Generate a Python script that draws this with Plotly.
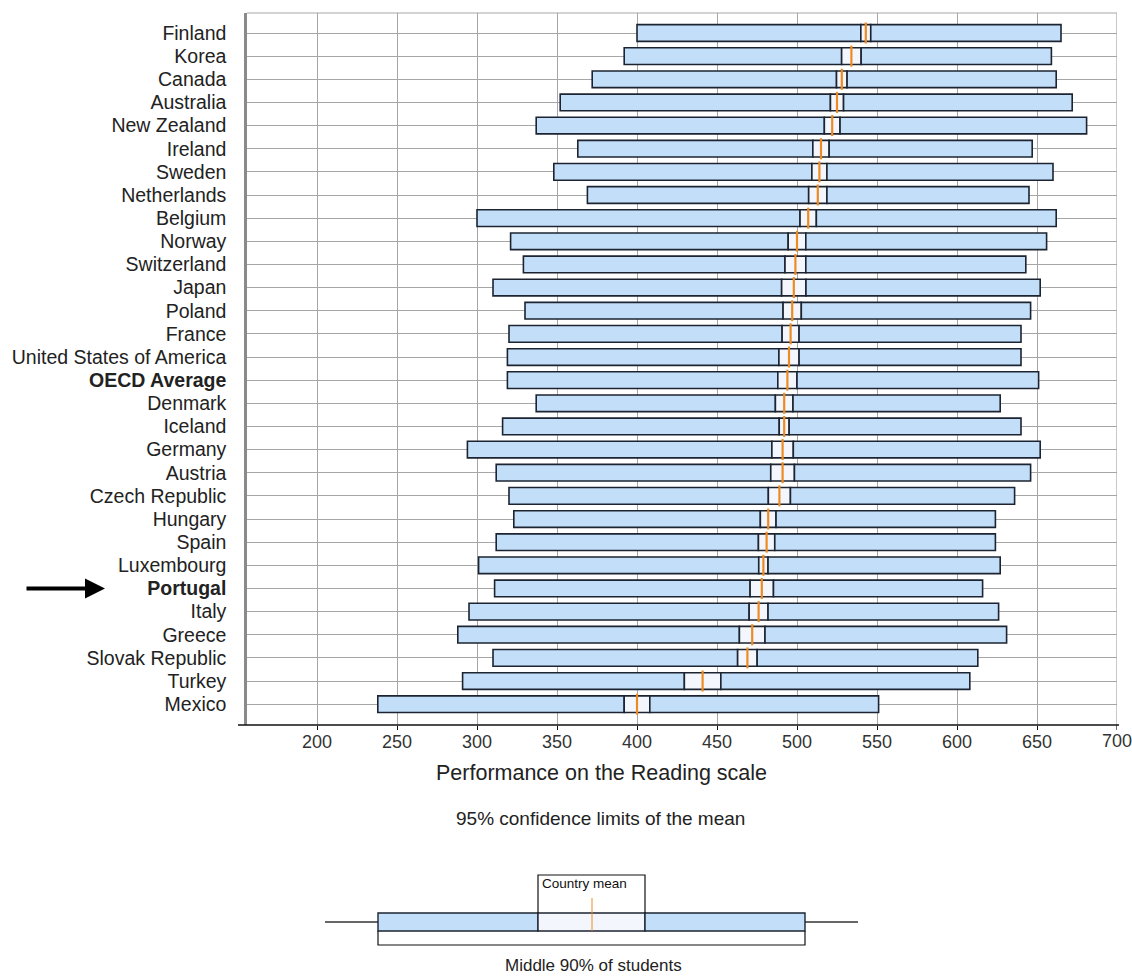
import plotly.graph_objects as go

countries = ["Finland", "Korea", "Canada", "Australia", "New Zealand", "Ireland",
             "Sweden", "Netherlands", "Belgium", "Norway", "Switzerland", "Japan",
             "Poland", "France", "United States of America", "OECD Average",
             "Denmark", "Iceland", "Germany", "Austria", "Czech Republic", "Hungary",
             "Spain", "Luxembourg", "Portugal", "Italy", "Greece", "Slovak Republic",
             "Turkey", "Mexico"]
highlight = ["OECD Average", "Portugal"]

mean_score = [543, 534, 528, 525, 522, 515, 514, 513, 507, 500, 499, 498, 497, 496, 495,
              494, 492, 492, 491, 491, 489, 482, 481, 479, 478, 476, 472, 469, 441, 400]
ci_low = [539.9, 527.9, 524.7, 520.9, 517.1, 509.9, 509.3, 507.3, 501.9, 494.5, 492.5,
          490.4, 491.3, 490.7, 488.7, 488.0, 486.5, 488.9, 484.3, 483.6, 482.1, 477.1,
          475.9, 476.1, 470.7, 470.1, 464.0, 462.9, 429.6, 392.0]
ci_high = [546.1, 540.1, 531.3, 529.1, 526.9, 520.1, 518.7, 518.7, 512.1, 505.5, 505.5,
           505.6, 502.7, 501.3, 501.3, 500.0, 497.5, 495.1, 497.7, 498.4, 495.9, 486.9,
           486.1, 481.9, 485.3, 481.9, 480.0, 475.1, 452.4, 408.0]
p5 = [400, 392, 372, 352, 337, 363, 348, 369, 300, 321, 329, 310, 330, 320, 319,
      319, 337, 316, 294, 312, 320, 323, 312, 301, 311, 295, 288, 310, 291, 238]
p95 = [665, 659, 662, 672, 681, 647, 660, 645, 662, 656, 643, 652, 646, 640, 640,
       651, 627, 640, 652, 646, 636, 624, 624, 627, 616, 626, 631, 613, 608, 551]

x_ticks = [200, 250, 300, 350, 400, 450, 500, 550, 600, 650]
x_last_tick = 700

# ---- geometry helpers (pixel layout) ----
W, H = 1132, 976
L, R, T, B = 247, 1117, 13, 725


def px(x):
    return (x - L) / (R - L)


def py(y):
    return (B - y) / (B - T)


BLUE = "#C3DEF8"
PALE = "#F3F7FD"
EDGE = "#1C2431"
ORANGE = "#EE8A22"
GRID = "#A6A6A6"

idx = list(range(len(countries)))
ticktext = [f"<b>{c}</b>" if c in highlight else c for c in countries]

fig = go.Figure()
bar_w = 0.72
fig.add_trace(go.Bar(y=idx, base=p5, x=[c - a for a, c in zip(p5, ci_low)],
                     orientation="h", width=bar_w, marker=dict(color=BLUE, line=dict(color=EDGE, width=1.6)),
                     showlegend=False, hoverinfo="skip"))
fig.add_trace(go.Bar(y=idx, base=ci_low, x=[b - a for a, b in zip(ci_low, ci_high)],
                     orientation="h", width=bar_w, marker=dict(color=PALE, line=dict(color=EDGE, width=1.6)),
                     showlegend=False, hoverinfo="skip"))
fig.add_trace(go.Bar(y=idx, base=ci_high, x=[b - a for a, b in zip(ci_high, p95)],
                     orientation="h", width=bar_w, marker=dict(color=BLUE, line=dict(color=EDGE, width=1.6)),
                     showlegend=False, hoverinfo="skip"))
fig.add_trace(go.Scatter(y=idx, x=mean_score, mode="markers",
                         marker=dict(symbol="line-ns", size=15, line=dict(color=ORANGE, width=2.2)),
                         showlegend=False, hoverinfo="skip"))

shapes = []
shapes.append(dict(type="line", xref="paper", yref="paper", x0=0, x1=1, y0=1, y1=1,
                   line=dict(color=GRID, width=1.2), layer="below"))
shapes.append(dict(type="line", xref="x", yref="paper", x0=x_last_tick, x1=x_last_tick, y0=0, y1=1,
                   line=dict(color=GRID, width=1.2), layer="below"))
shapes.append(dict(type="line", xref="x", yref="paper", x0=x_last_tick, x1=x_last_tick, y0=0, y1=-5 / 712,
                   line=dict(color="#111111", width=1.2)))
shapes.append(dict(type="line", xref="paper", yref="paper", x0=px(238), x1=px(1119), y0=0, y1=0,
                   line=dict(color="#111111", width=1.6)))

# ---- legend schematic ----
ly0, ly1 = 913, 931
lx = [378, 538, 645, 805]
shapes.append(dict(type="line", xref="paper", yref="paper", x0=px(325), x1=px(858),
                   y0=py(922), y1=py(922), line=dict(color="#333333", width=1.5)))
for (a, b, col) in [(lx[0], lx[1], BLUE), (lx[1], lx[2], PALE), (lx[2], lx[3], BLUE)]:
    shapes.append(dict(type="rect", xref="paper", yref="paper", x0=px(a), x1=px(b),
                       y0=py(ly1), y1=py(ly0), fillcolor=col, line=dict(color=EDGE, width=1.4)))
shapes.append(dict(type="line", xref="paper", yref="paper", x0=px(592), x1=px(592),
                   y0=py(898), y1=py(ly1), line=dict(color=ORANGE, width=1)))
shapes.append(dict(type="path", xref="paper", yref="paper",
                   path=f"M {px(538)} {py(913)} L {px(538)} {py(875)} L {px(645)} {py(875)} L {px(645)} {py(913)}",
                   line=dict(color="#111111", width=1.2)))
shapes.append(dict(type="path", xref="paper", yref="paper",
                   path=f"M {px(378)} {py(931)} L {px(378)} {py(945)} L {px(805)} {py(945)} L {px(805)} {py(931)}",
                   line=dict(color="#111111", width=1.2)))

font_main = "Liberation Sans, Arial, sans-serif"
annotations = [
    dict(text=str(x_last_tick), xref="x", yref="paper", x=x_last_tick, y=py(741),
         showarrow=False, font=dict(size=18, color="#333333", family=font_main), xanchor="center", yanchor="middle"),
    dict(text="Performance on the Reading scale", xref="paper", yref="paper", x=px(601), y=py(773),
         showarrow=False, font=dict(size=21.5, color="#222222", family=font_main), xanchor="center", yanchor="middle"),
    dict(text="95% confidence limits of the mean", xref="paper", yref="paper", x=px(600), y=py(818),
         showarrow=False, font=dict(size=19, color="#222222", family=font_main), xanchor="center", yanchor="middle"),
    dict(text="Country mean", xref="paper", yref="paper", x=px(540), y=py(883),
         showarrow=False, font=dict(size=13.5, color="#111111", family=font_main), xanchor="left", yanchor="middle"),
    dict(text="Middle 90% of students", xref="paper", yref="paper", x=px(593), y=py(965),
         showarrow=False, font=dict(size=17, color="#222222", family=font_main), xanchor="center", yanchor="middle"),
    dict(text="", xref="paper", yref="y", x=px(105), y=countries.index("Portugal"),
         ax=-80, ay=0, showarrow=True, arrowhead=2, arrowsize=1, arrowwidth=4, arrowcolor="#000000"),
]

fig.update_layout(
    width=W, height=H,
    margin=dict(l=L, r=W - R, t=T, b=H - B, pad=0),
    paper_bgcolor="white", plot_bgcolor="white",
    barmode="overlay",
    shapes=shapes, annotations=annotations,
    font=dict(family=font_main, color="#222222"),
    xaxis=dict(range=[156.25, 700], tickvals=x_ticks, ticktext=[str(v) for v in x_ticks],
               showgrid=True, gridcolor=GRID, gridwidth=1.2, zeroline=False,
               ticks="outside", ticklen=4, tickcolor="#111111", tickwidth=1.2,
               ticklabelstandoff=-4,
               tickfont=dict(size=18, color="#333333"), showline=False, automargin=False),
    yaxis=dict(range=[29.9, -0.864], tickvals=idx, ticktext=ticktext,
               showgrid=True, gridcolor=GRID, gridwidth=1.2, zeroline=False,
               showline=True, linecolor="#8A8A8A", linewidth=2.5, automargin=False,
               tickfont=dict(size=19.5, color="#222222"), ticks="", ticklabelstandoff=14),
)

fig.write_html("out.html", config={"displayModeBar": False},
               post_script="document.body.style.margin='0';document.body.style.overflow='hidden';")
